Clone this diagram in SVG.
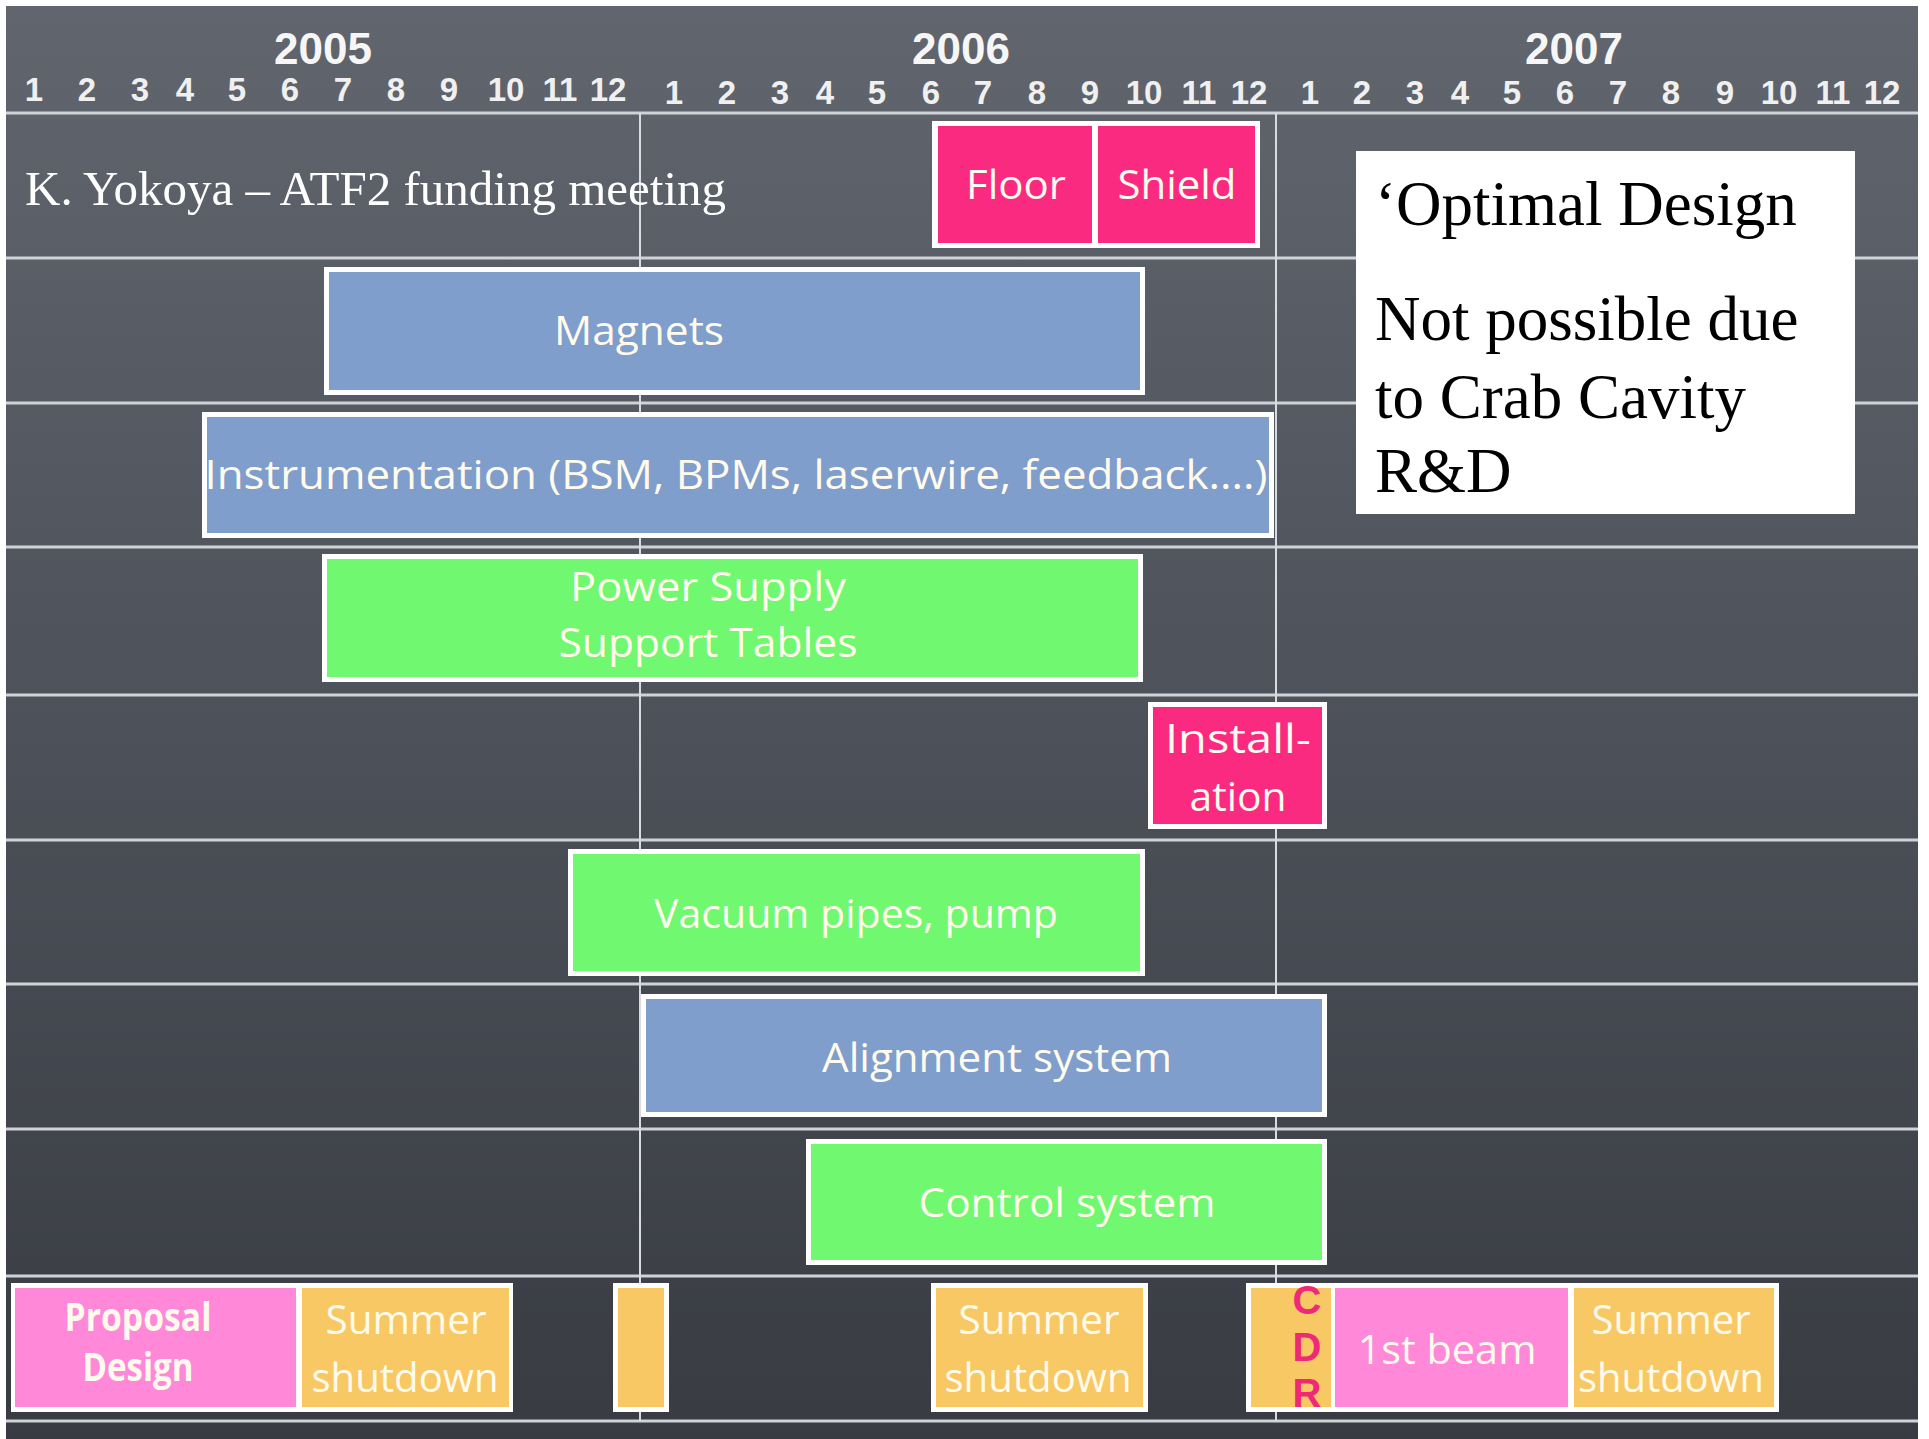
<svg xmlns="http://www.w3.org/2000/svg" width="1929" height="1439" viewBox="0 0 1929 1439">
<defs>
<linearGradient id="bg" x1="0" y1="0" x2="0" y2="1">
<stop offset="0" stop-color="#61656d"/>
<stop offset="0.5" stop-color="#4d5159"/>
<stop offset="1" stop-color="#383b42"/>
</linearGradient>
<style>
.hl{stroke:#cfd3d8;stroke-width:3}
.vl{stroke:#d8dbe0;stroke-width:2}
.yr{font-family:"Liberation Sans",Arial,sans-serif;font-weight:bold;font-size:44px;fill:#f6f6f6;text-anchor:middle}
.mo{font-family:"Liberation Sans",Arial,sans-serif;font-weight:bold;font-size:33px;fill:#f0f0f0;text-anchor:middle}
.box{stroke:#ffffff;stroke-width:5}
.wb{fill:#ffffff}
.pink{fill:#fa2a80}
.blue{fill:#7f9ecb}
.green{fill:#70f870}
.lpink{fill:#ff88d8}
.orange{fill:#f8c864}
.lbl{font-family:"Open Sans","DejaVu Sans",sans-serif;font-size:40px;fill:#fffbec;text-anchor:middle}
.bold{font-weight:bold}
.serif{font-family:"Liberation Serif","Times New Roman",serif}
.cdr{font-family:"Liberation Sans",Arial,sans-serif;font-weight:bold;font-size:40px;fill:#f02878;text-anchor:middle}
</style>
</defs>
<rect x="0" y="0" width="1929" height="1439" fill="#ffffff"/>
<rect x="6" y="6" width="1912" height="1433" fill="url(#bg)"/>

<g id="header">
<text class="yr" x="323" y="64">2005</text>
<text class="yr" x="961" y="64">2006</text>
<text class="yr" x="1574" y="64">2007</text>
<g class="mo">
<text x="34" y="101">1</text><text x="87" y="101">2</text><text x="140" y="101">3</text><text x="185" y="101">4</text><text x="237" y="101">5</text><text x="290" y="101">6</text><text x="343" y="101">7</text><text x="396" y="101">8</text><text x="449" y="101">9</text><text x="506" y="101">10</text><text x="560" y="101">11</text><text x="608" y="101">12</text>
<text x="674" y="104">1</text><text x="727" y="104">2</text><text x="780" y="104">3</text><text x="825" y="104">4</text><text x="877" y="104">5</text><text x="931" y="104">6</text><text x="983" y="104">7</text><text x="1037" y="104">8</text><text x="1090" y="104">9</text><text x="1144" y="104">10</text><text x="1199" y="104">11</text><text x="1249" y="104">12</text>
<text x="1310" y="104">1</text><text x="1362" y="104">2</text><text x="1415" y="104">3</text><text x="1460" y="104">4</text><text x="1512" y="104">5</text><text x="1565" y="104">6</text><text x="1618" y="104">7</text><text x="1671" y="104">8</text><text x="1725" y="104">9</text><text x="1779" y="104">10</text><text x="1833" y="104">11</text><text x="1882" y="104">12</text>
</g>
</g>

<g id="grid">
<line class="hl" x1="6" y1="113" x2="1918" y2="113"/>
<line class="hl" x1="6" y1="258" x2="1918" y2="258"/>
<line class="hl" x1="6" y1="403" x2="1918" y2="403"/>
<line class="hl" x1="6" y1="547" x2="1918" y2="547"/>
<line class="hl" x1="6" y1="695" x2="1918" y2="695"/>
<line class="hl" x1="6" y1="840" x2="1918" y2="840"/>
<line class="hl" x1="6" y1="984" x2="1918" y2="984"/>
<line class="hl" x1="6" y1="1129" x2="1918" y2="1129"/>
<line class="hl" x1="6" y1="1276" x2="1918" y2="1276"/>
<line class="hl" x1="6" y1="1421" x2="1918" y2="1421"/>
<line class="vl" x1="640" y1="113" x2="640" y2="1421"/>
<line class="vl" x1="1276" y1="113" x2="1276" y2="1421"/>
</g>

<g id="credit">
<text class="serif" x="25" y="205" font-size="49" fill="#ffffff">K. Yokoya – ATF2 funding meeting</text>
</g>

<g id="floor-shield">
<rect class="wb" x="932" y="121" width="328" height="127"/>
<rect class="pink" x="938" y="126" width="154" height="117"/>
<rect class="pink" x="1098" y="126" width="157" height="117"/>
<text class="lbl" x="1016" y="199" textLength="100" lengthAdjust="spacingAndGlyphs">Floor</text>
<text class="lbl" x="1177" y="199" textLength="119" lengthAdjust="spacingAndGlyphs">Shield</text>
</g>

<g id="magnets">
<rect class="box blue" x="326.5" y="269.5" width="816" height="123"/>
<text class="lbl" x="639" y="345" textLength="170" lengthAdjust="spacingAndGlyphs">Magnets</text>
</g>

<g id="instrumentation">
<rect class="box blue" x="204.5" y="414.5" width="1067" height="121"/>
<text class="lbl" x="736" y="489" textLength="1063" lengthAdjust="spacingAndGlyphs">Instrumentation (BSM, BPMs, laserwire, feedback....)</text>
</g>

<g id="power-supply">
<rect class="box green" x="324.5" y="556.5" width="816" height="123"/>
<text class="lbl" x="708" y="601" textLength="276" lengthAdjust="spacingAndGlyphs">Power Supply</text>
<text class="lbl" x="708" y="657" textLength="299" lengthAdjust="spacingAndGlyphs">Support Tables</text>
</g>

<g id="installation">
<rect class="box pink" x="1150.5" y="704.5" width="174" height="122"/>
<text class="lbl" x="1238" y="753" textLength="146" lengthAdjust="spacingAndGlyphs">Install-</text>
<text class="lbl" x="1238" y="811" textLength="97" lengthAdjust="spacingAndGlyphs">ation</text>
</g>

<g id="vacuum">
<rect class="box green" x="570.5" y="851.5" width="572" height="122"/>
<text class="lbl" x="856" y="928" textLength="404" lengthAdjust="spacingAndGlyphs">Vacuum pipes, pump</text>
</g>

<g id="alignment">
<rect class="box blue" x="643.5" y="996.5" width="681" height="118"/>
<text class="lbl" x="997" y="1072" textLength="350" lengthAdjust="spacingAndGlyphs">Alignment system</text>
</g>

<g id="control">
<rect class="box green" x="808.5" y="1141.5" width="516" height="121"/>
<text class="lbl" x="1067" y="1217" textLength="297" lengthAdjust="spacingAndGlyphs">Control system</text>
</g>

<g id="proposal-summer1">
<rect class="wb" x="11" y="1283" width="502" height="129"/>
<rect class="lpink" x="15" y="1288" width="281" height="119"/>
<rect class="orange" x="302" y="1288" width="207" height="119"/>
<text class="lbl bold" x="138" y="1331" font-size="28" textLength="147" lengthAdjust="spacingAndGlyphs">Proposal</text>
<text class="lbl bold" x="138" y="1381" font-size="28" textLength="111" lengthAdjust="spacingAndGlyphs">Design</text>
<text class="lbl" x="406" y="1334" textLength="161" lengthAdjust="spacingAndGlyphs">Summer</text>
<text class="lbl" x="405" y="1392" textLength="187" lengthAdjust="spacingAndGlyphs">shutdown</text>
</g>

<g id="shutdown-small">
<rect class="wb" x="613" y="1283" width="56" height="129"/>
<rect class="orange" x="618" y="1288" width="46" height="119"/>
</g>

<g id="summer2">
<rect class="wb" x="931" y="1283" width="217" height="129"/>
<rect class="orange" x="936" y="1288" width="207" height="119"/>
<text class="lbl" x="1039" y="1334" textLength="161" lengthAdjust="spacingAndGlyphs">Summer</text>
<text class="lbl" x="1038" y="1392" textLength="187" lengthAdjust="spacingAndGlyphs">shutdown</text>
</g>

<g id="cdr-beam-summer3">
<rect class="wb" x="1246" y="1283" width="533" height="129"/>
<rect class="orange" x="1251" y="1288" width="80" height="119"/>
<rect class="lpink" x="1335" y="1288" width="233" height="119"/>
<rect class="orange" x="1574" y="1288" width="200" height="119"/>
<text class="cdr" x="1307" y="1314">C</text>
<text class="cdr" x="1307" y="1361">D</text>
<text class="cdr" x="1307" y="1407">R</text>
<text class="lbl" x="1447" y="1364" textLength="179" lengthAdjust="spacingAndGlyphs">1st beam</text>
<text class="lbl" x="1671" y="1334" textLength="159" lengthAdjust="spacingAndGlyphs">Summer</text>
<text class="lbl" x="1671" y="1392" textLength="186" lengthAdjust="spacingAndGlyphs">shutdown</text>
</g>

<g id="note">
<rect class="wb" x="1356" y="151" width="499" height="363"/>
<g class="serif" font-size="63" fill="#000000">
<text x="1375" y="225">‘Optimal Design</text>
<text x="1375" y="340">Not possible due</text>
<text x="1375" y="418">to Crab Cavity</text>
<text x="1375" y="492">R&amp;D</text>
</g>
</g>
</svg>
